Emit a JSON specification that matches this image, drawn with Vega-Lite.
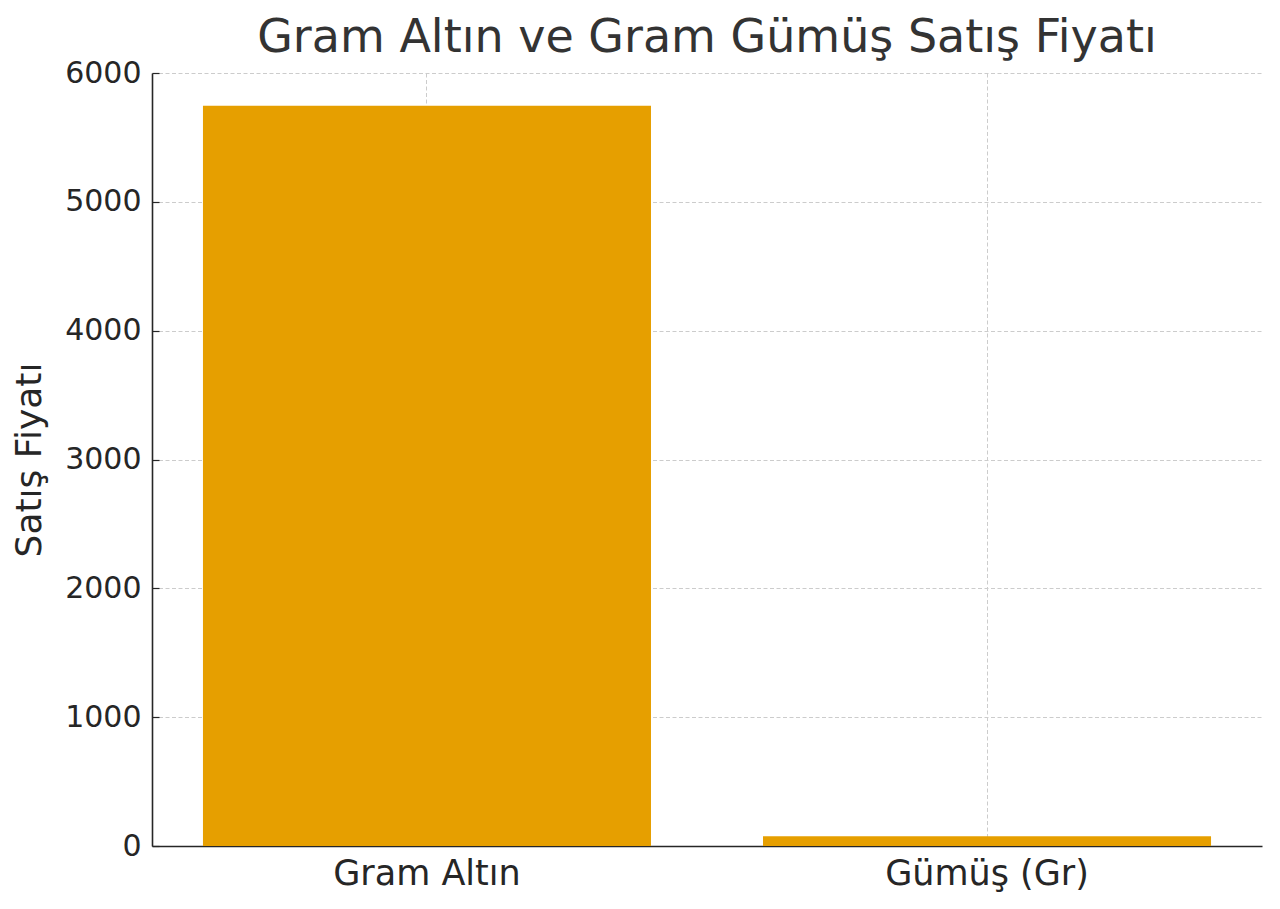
{
  "$schema": "https://vega.github.io/schema/vega-lite/v6.json",
  "width": 1110,
  "height": 773,
  "autosize": {"type": "none"},
  "padding": {"left": 152, "top": 73, "right": 18, "bottom": 63},
  "background": "white",
  "title": {
    "text": "Gram Altın ve Gram Gümüş Satış Fiyatı",
    "fontSize": 46,
    "font": "DejaVu Sans",
    "fontWeight": "normal",
    "color": "#333333",
    "anchor": "middle",
    "offset": -4
  },
  "data": {
    "values": [
      {"Ürün": "Gram Altın", "Satış Fiyatı": 5745},
      {"Ürün": "Gümüş (Gr)", "Satış Fiyatı": 75}
    ]
  },
  "mark": {"type": "bar", "color": "#E69F00"},
  "encoding": {
    "x": {
      "field": "Ürün",
      "type": "nominal",
      "sort": null,
      "scale": {"paddingInner": 0.2, "paddingOuter": 0.091},
      "axis": {"title": null, "labelAngle": 0, "labelPadding": 17, "labelFontSize": 35, "labelLimit": 0}
    },
    "y": {
      "field": "Satış Fiyatı",
      "type": "quantitative",
      "scale": {"domain": [0, 6000], "nice": false},
      "axis": {
        "values": [0, 1000, 2000, 3000, 4000, 5000, 6000],
        "format": "d",
        "title": "Satış Fiyatı",
        "titleFontSize": 36,
        "titlePadding": 16,
        "labelFontSize": 30,
        "labelPadding": 18
      }
    }
  },
  "config": {
    "view": {"stroke": null},
    "font": "DejaVu Sans",
    "axis": {
      "zindex": 1,
      "labelFont": "DejaVu Sans",
      "labelColor": "#262626",
      "titleFont": "DejaVu Sans",
      "titleFontWeight": "normal",
      "titleColor": "#262626",
      "domainColor": "#262626",
      "domainWidth": 1.6,
      "tickColor": "#262626",
      "tickSize": -7,
      "tickWidth": 1.2,
      "grid": true,
      "gridColor": "#cccccc",
      "gridDash": [4, 2.5],
      "gridWidth": 1
    },
    "axisX": {"labelFlush": false}
  }
}
